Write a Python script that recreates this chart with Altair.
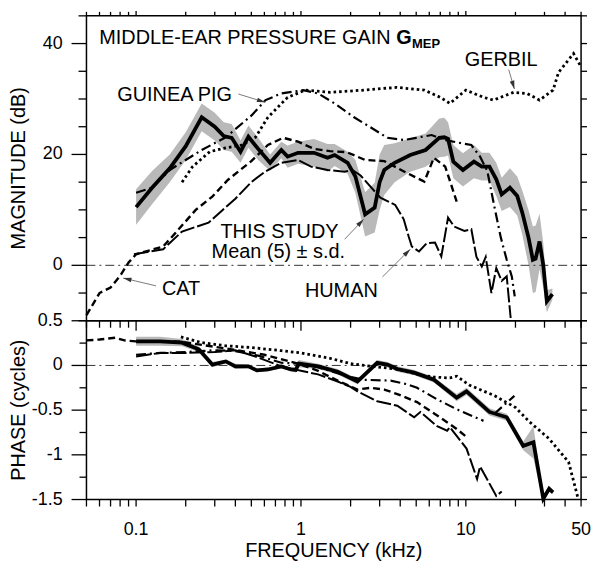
import math
import altair as alt
import pandas as pd

FONT = "Liberation Sans"

# ---------------- magnitude (dB) ----------------
study_f = [0.1, 0.125, 0.16, 0.2, 0.25, 0.3, 0.34, 0.38, 0.43, 0.48, 0.55, 0.65, 0.76, 0.83, 0.96,
           1.2, 1.45, 1.6, 1.92, 2.14, 2.45, 2.8, 3.0, 3.2, 3.7, 4.6, 5.7, 6.9, 7.4, 7.8,
           8.4, 9.6, 11.2, 12.5, 13.9, 15.3, 16.5, 18.5, 20.5, 22, 24, 25.5, 26.5, 28, 29.5, 31, 33.5]
study_db = [10.5, 14, 17.5, 21.5, 26.7, 25, 23.3, 23, 20.5, 23.2, 21, 18.5, 20.8, 19.6, 20.3,
            20.3, 19.4, 19.9, 18.5, 16, 9.2, 10.4, 15, 17.2, 18.5, 19.9, 20.8, 23, 23.1, 22.8,
            18.7, 17.2, 18.7, 17.8, 17.8, 15.5, 12.8, 14, 12.5, 9.5, 5, 1, 1.2, 4.3, 0, -6.5, -5.2]
study_sd = [3.2, 3, 2.5, 2.5, 2.5, 2.5, 2.5, 2.5, 2, 2, 2, 1.5, 1.5, 2, 2,
            2.5, 2.5, 2, 2, 3, 4, 4.5, 5, 4.5, 3.5, 3, 3, 3.5, 3.5, 3,
            3, 3, 3, 2.5, 2.5, 3, 3, 3.5, 3.5, 4, 5, 6, 6, 5, 4, 2, 1]

gp_f = [0.1, 0.125, 0.16, 0.25, 0.35, 0.5, 0.61, 0.76, 1.03, 1.27, 1.6, 2.1, 2.64, 3.34, 4.2,
        5.0, 6.2, 7.5, 9.1, 10.8, 12.2, 13.5, 14.8, 16.3, 17.7, 19, 19.8]
gp_db = [13.1, 14.0, 17.2, 20.8, 23.1, 27, 29.8, 31, 31.6, 31, 29.2, 26.7, 24.9, 23, 22.6,
         23, 23.5, 22.6, 22.1, 21.7, 19.6, 17, 11, 5, 1, -2, -5.6]

gerbil_f = [0.19, 0.22, 0.28, 0.35, 0.44, 0.53, 0.63, 0.83, 1.06, 1.5, 2.4, 3.8, 5.6, 7.0, 8.0,
            10.0, 12.8, 14.7, 19.5, 23.5, 28, 33.8, 36.5, 45, 50]
gerbil_db = [15, 17.8, 20.5, 21.2, 21.7, 23.1, 26.7, 30.3, 31.6, 31.2, 31.6, 32.1, 31.6, 30.3, 29.2,
             31.6, 30.3, 29.8, 31.2, 31, 29.8, 31.6, 34.8, 38.2, 35.8]

cat_f = [0.05, 0.06, 0.07, 0.08, 0.09, 0.1, 0.146, 0.174, 0.23, 0.29, 0.36, 0.5, 0.63, 0.78, 0.96,
         1.2, 1.5, 1.9, 2.45, 3.2, 4.3, 5.6, 6.4, 7.5, 8.8]
cat_db = [-9, -5, -4, -1.9, 0.5, 2, 3.4, 5.9, 10, 12.4, 15.4, 18.8, 21.7, 23, 22.3,
          21, 20.6, 20.4, 19, 18.8, 16.8, 15.1, 19.4, 17.8, 11.5]

human_f = [0.097, 0.146, 0.19, 0.275, 0.33, 0.4, 0.5, 0.6, 0.76, 0.96, 1.15, 1.45, 1.84, 2.05, 2.3,
           2.64, 3.03, 3.73, 4.2, 4.5, 4.7, 5.2, 5.8, 6.5, 7.1, 7.8, 8.5, 9.8, 10.8, 11.6,
           12.5, 13.2, 14.3, 15.3, 16.5, 17.7, 18.7]
human_db = [2, 2.9, 6.1, 7.7, 9.8, 12, 15, 16.8, 18.5, 19, 17.8, 17.2, 16.9, 17.2, 16.2,
            14.2, 12.2, 10.9, 8.3, 5.2, 3.4, 2.5, 4, 4.1, 1.6, 8.6, 7, 6.2, 6.5, 1.5,
            -0.2, 1.5, -5, -0.5, -2.8, -2, -9.5]

# ---------------- phase (cycles) ----------------
sph_f = [0.1, 0.14, 0.19, 0.24, 0.29, 0.35, 0.4, 0.48, 0.54, 0.63, 0.76, 0.87, 0.93, 0.97, 1.27,
         1.67, 2.2, 2.9, 3.34, 3.84, 4.86, 6.4, 8.8, 10.1, 13.9, 17.7, 22.3, 25.7, 29.5, 32, 33.8]
sph_v = [0.27, 0.27, 0.255, 0.18, 0.01, 0.045, -0.01, -0.01, -0.055, -0.045, -0.01, -0.045, -0.05, 0.02, -0.01,
         -0.07, -0.18, 0.03, 0.01, -0.04, -0.08, -0.16, -0.36, -0.29, -0.52, -0.58, -0.9, -0.86, -1.49, -1.38, -1.42]
sph_sd = [0.05, 0.05, 0.04, 0.03, 0.03, 0.02, 0.03, 0.02, 0.02, 0.02, 0.02, 0.02, 0.03, 0.04, 0.03,
          0.03, 0.03, 0.03, 0.03, 0.03, 0.03, 0.03, 0.04, 0.04, 0.04, 0.04, 0.05, 0.18, 0.04, 0.03, 0.02]

gph_f = [0.187, 0.25, 0.35, 0.5, 0.76, 1.0, 1.5, 2.0, 2.7, 3.8, 5.1, 6.4, 8.0, 8.8, 10.5,
         15, 20, 24.3, 32, 42, 48]
gph_v = [0.32, 0.255, 0.22, 0.2, 0.165, 0.14, 0.08, 0.02, -0.01, -0.04, -0.1, -0.13, -0.14, -0.12, -0.22,
         -0.34, -0.47, -0.63, -0.82, -1.08, -1.49]

cph_f = [0.05, 0.06, 0.075, 0.085, 0.1, 0.15, 0.19, 0.25, 0.38, 0.6, 0.96, 1.27, 1.67, 2.2, 2.64,
         3.2, 3.84, 5.06, 6.7, 8.8, 10.1]
cph_v = [0.28, 0.29, 0.31, 0.28, 0.27, 0.27, 0.265, 0.23, 0.18, 0.12, 0.02, -0.06, -0.17, -0.27, -0.25,
         -0.27, -0.32, -0.41, -0.56, -0.71, -0.8]

hph_f = [0.1, 0.14, 0.2, 0.3, 0.4, 0.53, 0.76, 1.0, 1.27, 1.67, 2.0, 2.2, 2.9, 3.84, 4.86,
         5.3, 6.7, 7.7, 8.0, 10.1, 11.7, 12.2, 15.3, 16.5]
hph_v = [0.1, 0.14, 0.14, 0.15, 0.17, 0.1, -0.01, -0.06, -0.1, -0.18, -0.24, -0.29, -0.4, -0.45, -0.58,
         -0.52, -0.68, -0.73, -0.69, -0.93, -1.27, -1.13, -1.46, -1.41]

pph_f = [0.1, 0.14, 0.2, 0.3, 0.4, 0.55, 0.76, 1.0, 1.27, 1.92, 2.4, 3.5, 4.4, 5.06, 6.7, 8.8, 12.8]
pph_v = [0.12, 0.14, 0.15, 0.17, 0.16, 0.11, 0.03, 0.02, -0.02, -0.12, -0.16, -0.17, -0.21, -0.25, -0.38, -0.49, -0.62]
pph2_f = [14.9, 19.7]
pph2_v = [-0.54, -0.34]

# ---------------- annotations ----------------
ann_text = ["GUINEA PIG", "GERBIL", "THIS STUDY", "Mean (5) \u00b1 s.d.", "CAT", "HUMAN"]
ann_f = [0.0769, 9.86, 0.325, 0.287, 0.1435, 1.057]
ann_db = [29.6, 35.9, 4.9, 1.3, -5.3, -5.7]

arr_f1 = [0.417, 18.2, 1.84, 3.12, 0.132]
arr_db1 = [30.9, 35.3, 4.7, -2.1, -3.7]
arr_f2 = [0.607, 19.7, 2.40, 4.6, 0.0835]
arr_db2 = [29.4, 31.8, 8.3, 2.9, -2.3]

title_parts = ["MIDDLE-EAR PRESSURE GAIN", "G", "MEP"]
title_f = [0.0598, 3.78, 4.72]
title_db = [39.9, 39.9, 39.2]

# ---------------- ticks and axis texts ----------------
X_MAJOR = [0.1, 1, 10]
X_MINOR = [0.05, 0.06, 0.07, 0.08, 0.09, 0.2, 0.3, 0.4, 0.5, 0.6, 0.7, 0.8, 0.9,
           2, 3, 4, 5, 6, 7, 8, 9, 20, 30, 40, 50]
X_LABEL_VALS = [0.1, 1, 10, 50]
X_LABEL_TEXT = ["0.1", "1", "10", "50"]
MAG_MAJOR = [0, 20, 40]
MAG_MINOR = [-10, -5, 5, 10, 15, 25, 30, 35, 45]
MAG_LABEL_TEXT = ["0", "20", "40"]
PH_MAJOR = [-1.5, -1, -0.5, 0, 0.5]
PH_MINOR = [-1.25, -0.75, -0.25, 0.25]
PH_LABEL_TEXT = ["-1.5", "-1", "-0.5", "0", "0.5"]
AXIS_TITLES = ["MAGNITUDE (dB)", "PHASE (cycles)", "FREQUENCY (kHz)"]

# ---------------- layout (pixels) ----------------
VW = 583            # view width (whole canvas of each panel)
PL, PR = 79, 577    # plot area left/right inside view
TT, TB = 5, 312     # top panel plot top/bottom inside view
BT, BB = 0, 180     # bottom panel plot top/bottom inside view
VH_TOP, VH_BOT = 312, 242

XLO, XHI = 0.05, 50
MLO, MHI = -10, 45
PLO, PHI = -1.5, 0.5
XS = alt.Scale(type="log", domain=[XLO, XHI], range=[PL, PR], nice=False)
YM = alt.Scale(domain=[MLO, MHI], range=[TB, TT], nice=False, zero=False)
YP = alt.Scale(domain=[PLO, PHI], range=[BB, BT], nice=False, zero=False)

PXD = (PR - PL) / math.log10(XHI / XLO)   # pixels per decade
PXM = (TB - TT) / float(MHI - MLO)        # pixels per dB


def xenc(field="f"):
    return alt.X(field + ":Q", scale=XS, axis=None)


def series(f, v, ys, dash=None, width=2.0):
    df = pd.DataFrame({"f": f, "v": v})
    kw = dict(color="black", strokeWidth=width)
    if dash:
        kw["strokeDash"] = dash
    return alt.Chart(df).mark_line(**kw).encode(x=xenc(), y=alt.Y("v:Q", scale=ys, axis=None))


def band(f, v, sd, ys):
    df = pd.DataFrame({"f": f, "lo": [a - b for a, b in zip(v, sd)], "hi": [a + b for a, b in zip(v, sd)]})
    return alt.Chart(df).mark_area(color="#b9b9b9").encode(
        x=xenc(), y=alt.Y("lo:Q", scale=ys, axis=None), y2="hi:Q")


def zero_line(ys):
    df = pd.DataFrame({"f": [XLO, XHI], "v": [0, 0]})
    return alt.Chart(df).mark_line(color="#333333", strokeWidth=1, strokeDash=[9, 4, 2, 4]).encode(
        x=xenc(), y=alt.Y("v:Q", scale=ys, axis=None))


def frame(ylo, yhi, ys):
    df = pd.DataFrame({"x1": [XLO], "x2": [XHI], "y1": [ylo], "y2": [yhi]})
    return alt.Chart(df).mark_rect(fillOpacity=0, stroke="black", strokeWidth=1.5).encode(
        x=alt.X("x1:Q", scale=XS, axis=None), x2="x2:Q",
        y=alt.Y("y1:Q", scale=ys, axis=None), y2="y2:Q")


def xticks(vals, y0, y1):
    df = pd.DataFrame({"t": vals})
    return alt.Chart(df).mark_rule(color="black", strokeWidth=1.3).encode(
        x=alt.X("t:Q", scale=XS, axis=None), y=alt.value(y0), y2=alt.value(y1))


def yticks(vals, ys, x0, x1):
    df = pd.DataFrame({"t": vals})
    return alt.Chart(df).mark_rule(color="black", strokeWidth=1.3).encode(
        y=alt.Y("t:Q", scale=ys, axis=None), x=alt.value(x0), x2=alt.value(x1))


def ylabels(vals, texts, ys):
    df = pd.DataFrame({"t": vals, "s": texts})
    return alt.Chart(df).mark_text(font=FONT, fontSize=18, align="right", baseline="middle",
                                   color="black").encode(
        y=alt.Y("t:Q", scale=ys, axis=None), x=alt.value(PL - 24), text="s:N")


def xlabels(vals, texts, y):
    df = pd.DataFrame({"t": vals, "s": texts})
    return alt.Chart(df).mark_text(font=FONT, fontSize=18, align="center", baseline="top",
                                   color="black").encode(
        x=alt.X("t:Q", scale=XS, axis=None), y=alt.value(y), text="s:N")


def ytitle(text, ymid):
    df = pd.DataFrame({"s": [text]})
    return alt.Chart(df).mark_text(font=FONT, fontSize=20, angle=270, align="center", baseline="bottom",
                                   color="black").encode(x=alt.value(PL - 58), y=alt.value(ymid), text="s:N")


def xtitle(text, y):
    df = pd.DataFrame({"s": [text]})
    return alt.Chart(df).mark_text(font=FONT, fontSize=20, align="center", baseline="top",
                                   color="black").encode(x=alt.value((PL + PR) / 2), y=alt.value(y), text="s:N")


DASH_CAT = [7, 4]
DASH_GP = [10, 4, 2, 4]
DASH_GERBIL = [2.6, 3]
DASH_HUMAN = [15, 3]

# ---------------- top panel ----------------
ann_df = pd.DataFrame({"f": ann_f, "v": ann_db, "t": ann_text})
texts = alt.Chart(ann_df).mark_text(font=FONT, fontSize=20, align="left", baseline="alphabetic",
                                    color="black").encode(x=xenc(), y=alt.Y("v:Q", scale=YM, axis=None), text="t:N")

tdf = pd.DataFrame({"f": title_f, "v": title_db, "t": title_parts})
t_main = alt.Chart(tdf.iloc[[0]]).mark_text(font=FONT, fontSize=20, align="left", baseline="alphabetic",
                                            color="black").encode(x=xenc(), y=alt.Y("v:Q", scale=YM, axis=None), text="t:N")
t_g = alt.Chart(tdf.iloc[[1]]).mark_text(font=FONT, fontSize=20, fontWeight="bold", align="left",
                                         baseline="alphabetic", color="black").encode(
    x=xenc(), y=alt.Y("v:Q", scale=YM, axis=None), text="t:N")
t_sub = alt.Chart(tdf.iloc[[2]]).mark_text(font=FONT, fontSize=13, fontWeight="bold", align="left",
                                           baseline="alphabetic", color="black").encode(
    x=xenc(), y=alt.Y("v:Q", scale=YM, axis=None), text="t:N")

angles = []
for a, b, c, d in zip(arr_f1, arr_db1, arr_f2, arr_db2):
    dx = PXD * (math.log10(c) - math.log10(a))
    dy = -PXM * (d - b)
    angles.append(math.degrees(math.atan2(dx, -dy)) % 360)
arr_df = pd.DataFrame({"f1": arr_f1, "v1": arr_db1, "f2": arr_f2, "v2": arr_db2, "ang": angles})
arrows = alt.Chart(arr_df).mark_rule(color="#7a7a7a", strokeWidth=1).encode(
    x=xenc("f1"), x2="f2:Q", y=alt.Y("v1:Q", scale=YM, axis=None), y2="v2:Q")
heads = alt.Chart(arr_df).mark_point(shape="M0,0L-0.45,1.6L0.45,1.6Z", filled=True, size=110,
                                     color="#333333", opacity=1).encode(
    x=xenc("f2"), y=alt.Y("v2:Q", scale=YM, axis=None), angle=alt.Angle("ang:Q", scale=None))

top = alt.layer(
    band(study_f, study_db, study_sd, YM),
    zero_line(YM),
    series(cat_f, cat_db, YM, DASH_CAT, 2.4),
    series(human_f, human_db, YM, DASH_HUMAN, 2.0),
    series(gp_f, gp_db, YM, DASH_GP, 2.2),
    series(gerbil_f, gerbil_db, YM, DASH_GERBIL, 2.8),
    series(study_f, study_db, YM, None, 3.8),
    arrows, heads, texts, t_main, t_g, t_sub,
    xticks(X_MINOR, TT, TT - 4), xticks(X_MAJOR, TT, TT - 5),
    yticks(MAG_MINOR, YM, PL, PL - 8), yticks(MAG_MAJOR, YM, PL, PL - 15),
    yticks(MAG_MINOR + MAG_MAJOR, YM, PR, PR + 6),
    frame(MLO, MHI, YM),
    ylabels(MAG_MAJOR, MAG_LABEL_TEXT, YM),
    ytitle(AXIS_TITLES[0], (TT + TB) / 2),
).properties(width=VW, height=VH_TOP)

# ---------------- bottom panel ----------------
bottom = alt.layer(
    band(sph_f, sph_v, sph_sd, YP),
    zero_line(YP),
    series(cph_f, cph_v, YP, DASH_CAT, 2.4),
    series(hph_f, hph_v, YP, DASH_HUMAN, 2.0),
    series(pph_f, pph_v, YP, DASH_GP, 2.2),
    series(pph2_f, pph2_v, YP, DASH_GP, 2.2),
    series(gph_f, gph_v, YP, DASH_GERBIL, 2.8),
    series(sph_f, sph_v, YP, None, 3.8),
    xticks(X_MINOR, BT, BT + 7), xticks(X_MAJOR, BT, BT + 10),
    xticks(X_MINOR + X_MAJOR, BB, BB + 7),
    yticks(PH_MINOR, YP, PL, PL - 7), yticks(PH_MAJOR, YP, PL, PL - 15),
    yticks(PH_MINOR + PH_MAJOR, YP, PR, PR + 6),
    frame(PLO, PHI, YP),
    ylabels(PH_MAJOR, PH_LABEL_TEXT, YP),
    xlabels(X_LABEL_VALS, X_LABEL_TEXT, BB + 22),
    ytitle(AXIS_TITLES[1], (BT + BB) / 2),
    xtitle(AXIS_TITLES[2], BB + 42),
).properties(width=VW, height=VH_BOT)

chart = alt.vconcat(top, bottom, spacing=0, bounds="flush").properties(
    padding={"left": 0, "top": 0, "right": 0, "bottom": 0}
).configure_view(stroke="transparent", strokeWidth=0)

chart.save("out.html", embed_options={"renderer": "svg", "actions": False})
